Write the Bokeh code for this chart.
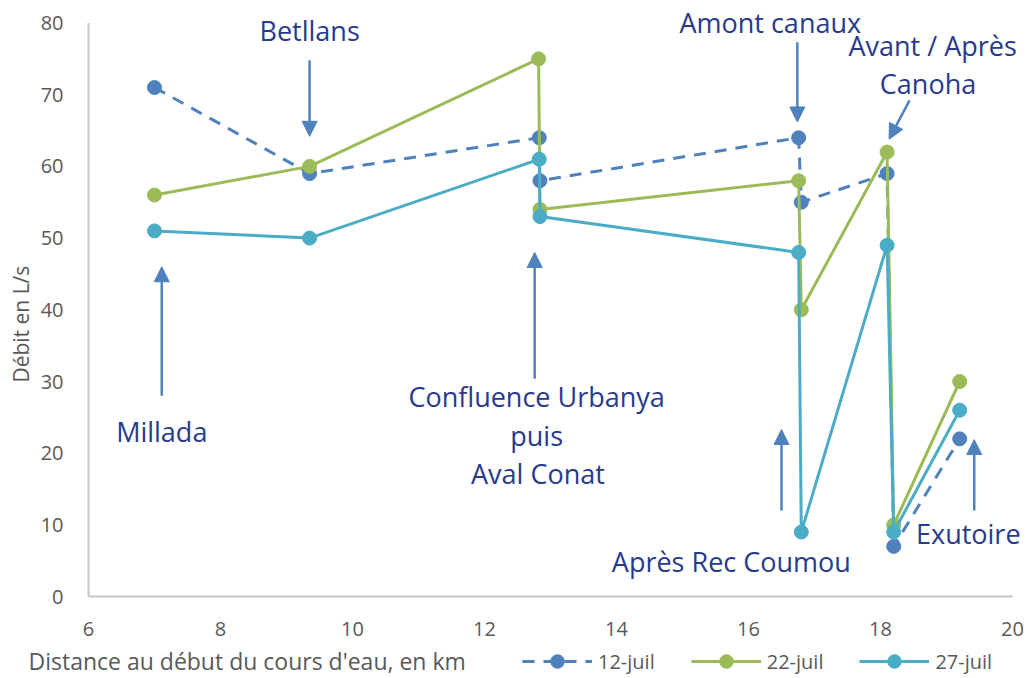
import math
from bokeh.plotting import figure
from bokeh.models import Legend, LegendItem, Label, Arrow, NormalHead
from bokeh.core.properties import value
from bokeh.embed import file_html
from bokeh.resources import INLINE

# ---- data ----
x_12 = [7.0, 9.35, 12.83, 12.84, 16.76, 16.80, 18.10, 18.20, 19.20]
y_12 = [71, 59, 64, 58, 64, 55, 59, 7, 22]
x_22 = [7.0, 9.35, 12.82, 12.84, 16.76, 16.80, 18.10, 18.20, 19.20]
y_22 = [56, 60, 75, 54, 58, 40, 62, 10, 30]
x_27 = [7.0, 9.35, 12.83, 12.84, 16.76, 16.80, 18.10, 18.20, 19.20]
y_27 = [51, 50, 61, 53, 48, 9, 49, 9, 26]
series_names = ["12-juil", "22-juil", "27-juil"]

x_ticks = [6, 8, 10, 12, 14, 16, 18, 20]
y_ticks = [0, 10, 20, 30, 40, 50, 60, 70, 80]
x_title = "Distance au début du cours d'eau, en km"
y_title = "Débit en L/s"

# annotations (text, x, y)
ann_texts = ["Betllans", "Millada", "Confluence Urbanya", "puis", "Aval Conat",
             "Amont canaux", "Avant / Après", "Canoha", "Après Rec Coumou", "Exutoire"]
ann_x = [9.35, 7.11, 12.79, 12.79, 12.81, 16.33, 18.79, 18.72, 15.74, 19.33]
ann_y = [78.9, 23.0, 27.9, 22.5, 17.2, 80.1, 76.8, 71.5, 4.9, 8.8]

# arrows (start -> end)
arr_x0 = [9.35, 7.11, 12.76, 16.74, 18.44, 16.50, 19.42]
arr_y0 = [74.8, 28.0, 30.4, 77.3, 69.2, 12.0, 12.0]
arr_x1 = [9.35, 7.11, 12.76, 16.74, 18.13, 16.50, 19.42]
arr_y1 = [64.2, 46.0, 48.0, 66.2, 63.8, 23.3, 21.9]

C_BLUE = "#4F81BD"
C_GREEN = "#9BBB59"
C_TEAL = "#4BACC6"
C_TEXT = "#283A8C"
C_AX = "#595959"
C_AXLINE = "#C6C6C6"
FONT = "Open Sans"

W, H = 1026, 678
PX_X = 66.0      # px per km
PX_Y = 7.17      # px per L/s
LEFT, TOP = 88.0, 22.5   # canvas px of (6, 80)
x0 = x_ticks[0] - LEFT / PX_X
x1 = x0 + W / PX_X
y1 = y_ticks[-1] + TOP / PX_Y
y0 = y1 - H / PX_Y

p = figure(width=W, height=H, x_range=(x0, x1), y_range=(y0, y1),
           output_backend="svg", toolbar_location=None,
           x_axis_location=None, y_axis_location=None,
           min_border=0, min_border_left=0, min_border_right=0,
           min_border_top=0, min_border_bottom=0)
p.outline_line_color = None
p.xgrid.grid_line_color = None
p.ygrid.grid_line_color = None

# axes drawn by hand
p.line([x_ticks[0], x_ticks[0]], [y_ticks[0], y_ticks[-1]], line_color=C_AXLINE, line_width=2)
p.line([x_ticks[0], x_ticks[-1]], [y_ticks[0], y_ticks[0]], line_color=C_AXLINE, line_width=2)
p.text(x=x_ticks, y=[y_ticks[0] - 32 / PX_Y] * len(x_ticks), text=[str(v) for v in x_ticks],
       text_font=value(FONT), text_font_size=value("20px"), text_color=C_AX,
       text_align="center", text_baseline="middle")
p.text(x=[x_ticks[0] - 25 / PX_X] * len(y_ticks), y=y_ticks, text=[str(v) for v in y_ticks],
       text_font=value(FONT), text_font_size=value("20px"), text_color=C_AX,
       text_align="right", text_baseline="middle")
p.add_layout(Label(x=x_ticks[0] - 68 / PX_X, y=38, text=y_title, angle=math.pi / 2,
                   text_font=FONT, text_font_size="21px", text_color=C_AX,
                   text_align="center", text_baseline="middle"))
p.add_layout(Label(x=x_ticks[0] - 60 / PX_X, y=y_ticks[0] - 64 / PX_Y, text=x_title,
                   text_font=FONT, text_font_size="23px", text_color=C_AX,
                   text_align="left", text_baseline="middle"))

r1l = p.line(x_12, y_12, line_color=C_BLUE, line_width=3, line_dash="12 9")
r1m = p.scatter(x_12, y_12, size=14, fill_color=C_BLUE, line_color=C_BLUE)
r2l = p.line(x_22, y_22, line_color=C_GREEN, line_width=3)
r2m = p.scatter(x_22, y_22, size=14, fill_color=C_GREEN, line_color=C_GREEN)
r3l = p.line(x_27, y_27, line_color=C_TEAL, line_width=3)
r3m = p.scatter(x_27, y_27, size=14, fill_color=C_TEAL, line_color=C_TEAL)

for xs, ys, xe, ye in zip(arr_x0, arr_y0, arr_x1, arr_y1):
    p.add_layout(Arrow(end=NormalHead(size=15, fill_color=C_BLUE, line_color=C_BLUE),
                       x_start=xs, y_start=ys, x_end=xe, y_end=ye,
                       line_color=C_BLUE, line_width=2.5))

for t, x, y in zip(ann_texts, ann_x, ann_y):
    p.add_layout(Label(x=x, y=y, text=t, text_font=FONT, text_font_size="27px",
                       text_color=C_TEXT, text_align="center",
                       text_baseline="middle"))

legend = Legend(items=[LegendItem(label=series_names[0], renderers=[r1l, r1m]),
                       LegendItem(label=series_names[1], renderers=[r2l, r2m]),
                       LegendItem(label=series_names[2], renderers=[r3l, r3m])],
                orientation="horizontal", location=(522, 0),
                glyph_width=70, glyph_height=34, label_standoff=6, spacing=36,
                padding=0, margin=0, border_line_color=None,
                background_fill_alpha=0,
                label_text_font=FONT, label_text_font_size="20px",
                label_text_color=C_AX)
p.add_layout(legend, "center")

open("out.html", "w").write(file_html(p, INLINE))
